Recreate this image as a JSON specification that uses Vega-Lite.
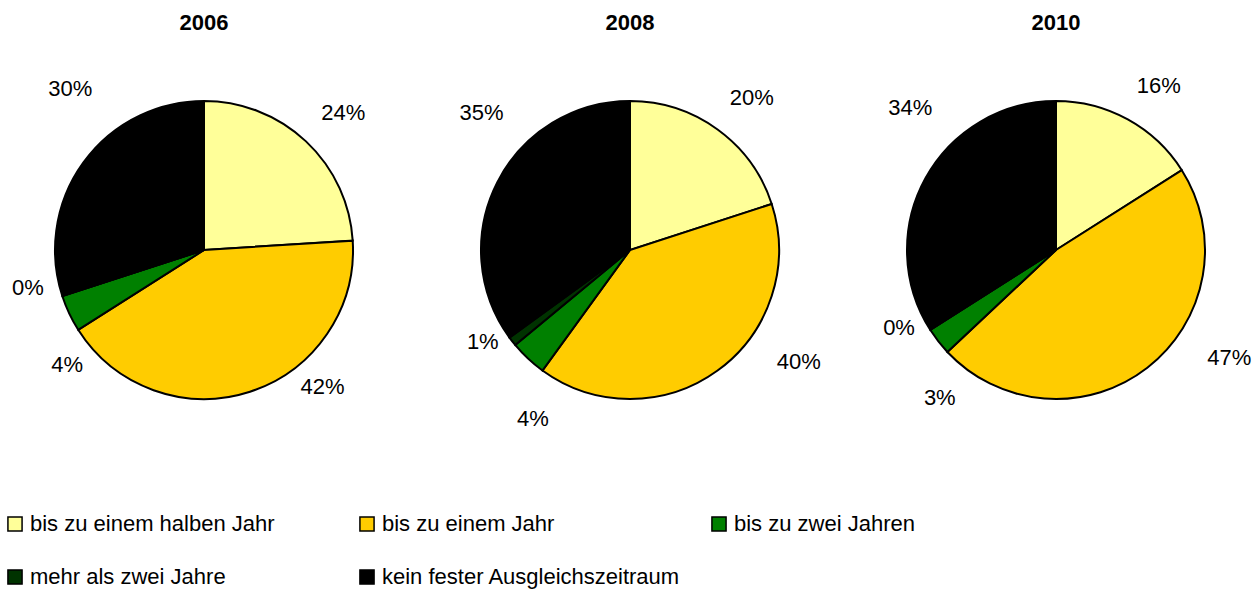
{
  "$schema": "https://vega.github.io/schema/vega-lite/v6.json",
  "padding": {"left": 0, "right": 0, "top": 12, "bottom": 0},
  "config": {"view": {"stroke": null}, "font": "Liberation Sans"},
  "data": {"values": [
    {"year": "2006", "category": "bis zu einem halben Jahr", "value": 0.24, "order": 1},
    {"year": "2006", "category": "bis zu einem Jahr", "value": 0.42, "order": 2},
    {"year": "2006", "category": "bis zu zwei Jahren", "value": 0.04, "order": 3},
    {"year": "2006", "category": "mehr als zwei Jahre", "value": 0.0, "order": 4},
    {"year": "2006", "category": "kein fester Ausgleichszeitraum", "value": 0.30, "order": 5},
    {"year": "2008", "category": "bis zu einem halben Jahr", "value": 0.20, "order": 1},
    {"year": "2008", "category": "bis zu einem Jahr", "value": 0.40, "order": 2},
    {"year": "2008", "category": "bis zu zwei Jahren", "value": 0.04, "order": 3},
    {"year": "2008", "category": "mehr als zwei Jahre", "value": 0.01, "order": 4},
    {"year": "2008", "category": "kein fester Ausgleichszeitraum", "value": 0.35, "order": 5},
    {"year": "2010", "category": "bis zu einem halben Jahr", "value": 0.16, "order": 1},
    {"year": "2010", "category": "bis zu einem Jahr", "value": 0.47, "order": 2},
    {"year": "2010", "category": "bis zu zwei Jahren", "value": 0.03, "order": 3},
    {"year": "2010", "category": "mehr als zwei Jahre", "value": 0.0, "order": 4},
    {"year": "2010", "category": "kein fester Ausgleichszeitraum", "value": 0.34, "order": 5}
  ]},
  "facet": {"column": {"field": "year", "type": "ordinal", "header": {"title": null, "labelFontSize": 22, "labelFontWeight": "bold", "labelFont": "Liberation Sans", "labelColor": "#000000", "labelPadding": 40}}},
  "spacing": 18,
  "spec": {
    "width": 408,
    "height": 340,
    "layer": [
      {
        "mark": {"type": "arc", "outerRadius": 149, "stroke": "#000000", "strokeWidth": 2},
        "encoding": {
          "theta": {"field": "value", "type": "quantitative", "stack": true, "scale": {"domain": [0, 1]}},
          "order": {"field": "order", "type": "quantitative"},
          "color": {
            "field": "category", "type": "nominal",
            "scale": {
              "domain": ["bis zu einem halben Jahr", "bis zu einem Jahr", "bis zu zwei Jahren", "mehr als zwei Jahre", "kein fester Ausgleichszeitraum"],
              "range": ["#FFFF99", "#FFCC00", "#008000", "#003300", "#000000"]
            },
            "legend": {
              "orient": "bottom", "title": null, "columns": 3, "gridAlign": "all",
              "symbolType": "square", "symbolSize": 200, "symbolStrokeColor": "#000000", "symbolStrokeWidth": 1.5,
              "labelFontSize": 22, "labelFont": "Liberation Sans", "labelColor": "#000000", "labelLimit": 500,
              "columnPadding": 27, "rowPadding": 31, "labelOffset": 4, "offset": 78, "padding": 4
            }
          }
        }
      },
      {
        "transform": [
          {"stack": "value", "groupby": ["year"], "sort": [{"field": "order", "order": "ascending"}], "as": ["v0", "v1"]},
          {"fold": ["v0", "v1"], "as": ["edge", "pos"]},
          {"aggregate": [{"op": "mean", "field": "pos", "as": "mid"}, {"op": "max", "field": "value", "as": "pct"}], "groupby": ["year", "category"]}
        ],
        "encoding": {
          "theta": {"field": "mid", "type": "quantitative", "scale": {"domain": [0, 1]}},
          "text": {"field": "pct", "type": "quantitative", "format": ".0%"}
        },
        "layer": [
          {"transform": [{"filter": "datum.category == 'bis zu einem halben Jahr'"}],
           "mark": {"type": "text", "radius": 180, "dx": 16, "dy": -6, "fontSize": 22, "font": "Liberation Sans", "color": "#000000"}},
          {"transform": [{"filter": "datum.category == 'bis zu einem Jahr'"}],
           "mark": {"type": "text", "radius": 180, "dx": 63, "dy": -34, "fontSize": 22, "font": "Liberation Sans", "color": "#000000"}},
          {"transform": [{"filter": "datum.category == 'bis zu zwei Jahren'"}],
           "mark": {"type": "text", "radius": 180, "dx": 26, "dy": 38, "fontSize": 22, "font": "Liberation Sans", "color": "#000000"}},
          {"transform": [{"filter": "datum.category == 'mehr als zwei Jahre'"}],
           "mark": {"type": "text", "radius": 180, "dx": -5, "dy": -18, "fontSize": 22, "font": "Liberation Sans", "color": "#000000"}},
          {"transform": [{"filter": "datum.category == 'kein fester Ausgleichszeitraum'"}],
           "mark": {"type": "text", "radius": 180, "dx": 12, "dy": -55, "fontSize": 22, "font": "Liberation Sans", "color": "#000000"}}
        ]
      }
    ]
  }
}
